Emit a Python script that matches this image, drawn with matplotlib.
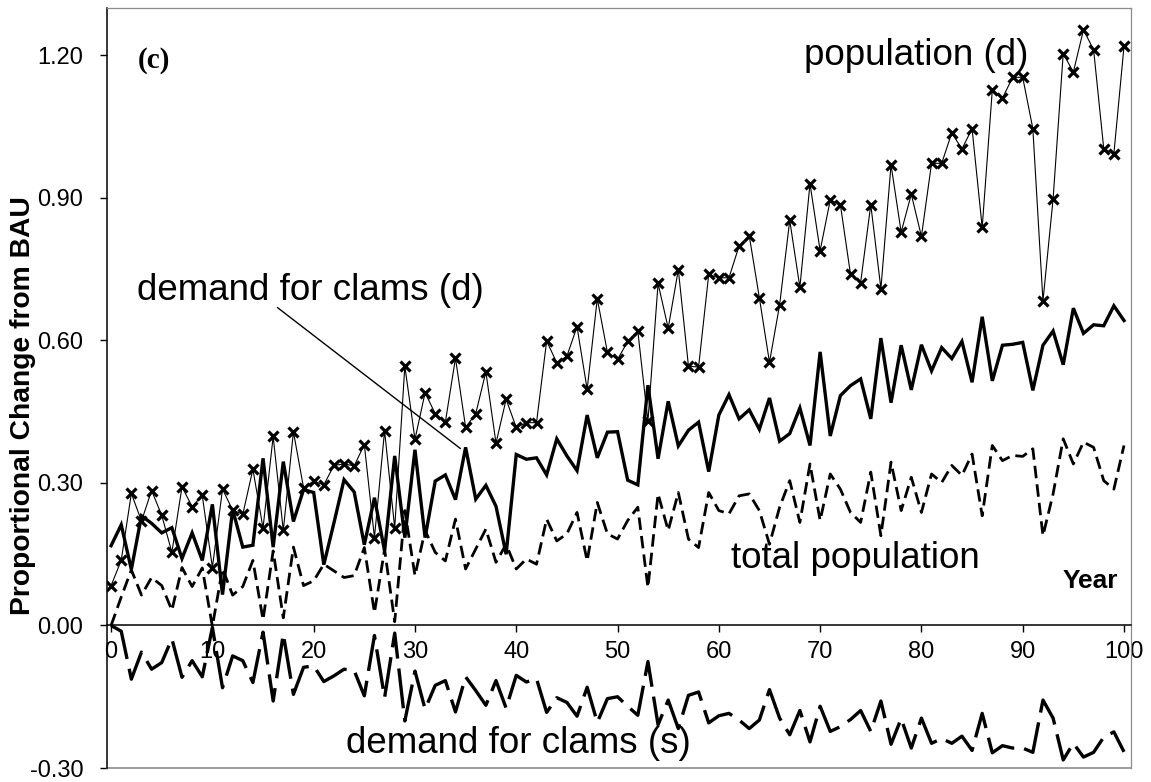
import matplotlib
matplotlib.use("Agg")
import matplotlib.pyplot as plt

plt.rcParams['font.family'] = ['Liberation Sans', 'DejaVu Sans']

# year axis
years = list(range(0, 101))

# population (d), thin line with x markers
population_d = [
    0.084, 0.137, 0.278, 0.220, 0.284, 0.232, 0.154, 0.292, 0.250, 0.274,
    0.122, 0.287, 0.243, 0.234, 0.329, 0.205, 0.398, 0.200, 0.408, 0.290,
    0.304, 0.296, 0.337, 0.340, 0.336, 0.381, 0.185, 0.410, 0.205, 0.546,
    0.392, 0.490, 0.446, 0.428, 0.563, 0.417, 0.446, 0.534, 0.384, 0.476,
    0.417, 0.427, 0.427, 0.599, 0.553, 0.567, 0.629, 0.497, 0.688, 0.575,
    0.560, 0.598, 0.620, 0.430, 0.720, 0.626, 0.749, 0.546, 0.544, 0.739,
    0.732, 0.732, 0.799, 0.821, 0.690, 0.554, 0.675, 0.853, 0.712, 0.930,
    0.789, 0.896, 0.886, 0.739, 0.722, 0.886, 0.709, 0.970, 0.828, 0.908,
    0.819, 0.973, 0.973, 1.037, 1.003, 1.046, 0.838, 1.128, 1.110, 1.154,
    1.154, 1.046, 0.683, 0.898, 1.204, 1.165, 1.254, 1.212, 1.004, 0.993,
    1.219,
]

# demand for clams (d), thick solid line
demand_d = [
    0.168, 0.212, 0.118, 0.231, 0.215, 0.195, 0.206, 0.141, 0.195, 0.137,
    0.255, 0.065, 0.244, 0.165, 0.169, 0.352, 0.165, 0.345, 0.219, 0.286,
    0.280, 0.128, 0.216, 0.307, 0.281, 0.170, 0.269, 0.157, 0.357, 0.185,
    0.370, 0.185, 0.304, 0.317, 0.265, 0.375, 0.266, 0.295, 0.251, 0.150,
    0.360, 0.350, 0.353, 0.317, 0.393, 0.357, 0.326, 0.443, 0.353, 0.407,
    0.408, 0.306, 0.296, 0.506, 0.351, 0.472, 0.378, 0.411, 0.428, 0.324,
    0.443, 0.486, 0.435, 0.454, 0.413, 0.479, 0.388, 0.404, 0.458, 0.379,
    0.576, 0.399, 0.484, 0.505, 0.519, 0.435, 0.605, 0.469, 0.590, 0.496,
    0.591, 0.536, 0.585, 0.562, 0.598, 0.512, 0.650, 0.515, 0.590, 0.592,
    0.596, 0.495, 0.590, 0.620, 0.549, 0.668, 0.615, 0.633, 0.631, 0.673,
    0.642,
]

# total population, short dashes
total_pop = [
    0.000, 0.060, 0.117, 0.064, 0.101, 0.084, 0.032, 0.122, 0.082, 0.121,
    -0.002, 0.120, 0.064, 0.082, 0.137, 0.012, 0.157, 0.016, 0.165, 0.084,
    0.094, 0.129, 0.115, 0.101, 0.105, 0.164, 0.027, 0.160, 0.008, 0.242,
    0.105, 0.200, 0.154, 0.136, 0.224, 0.119, 0.161, 0.203, 0.133, 0.171,
    0.119, 0.140, 0.129, 0.224, 0.178, 0.193, 0.238, 0.136, 0.259, 0.193,
    0.182, 0.221, 0.249, 0.080, 0.277, 0.200, 0.280, 0.182, 0.164, 0.280,
    0.242, 0.235, 0.273, 0.277, 0.242, 0.171, 0.249, 0.305, 0.217, 0.340,
    0.221, 0.319, 0.287, 0.238, 0.217, 0.323, 0.189, 0.344, 0.242, 0.312,
    0.238, 0.319, 0.301, 0.337, 0.316, 0.361, 0.231, 0.379, 0.347, 0.358,
    0.356, 0.372, 0.189, 0.277, 0.393, 0.340, 0.386, 0.375, 0.305, 0.287,
    0.379,
]

# demand for clams (s), long dashes
demand_s = [
    0.000, -0.012, -0.113, -0.056, -0.092, -0.078, -0.028, -0.109, -0.074, -0.108,
    -0.004, -0.131, -0.064, -0.074, -0.120, -0.014, -0.159, -0.018, -0.145, -0.088,
    -0.085, -0.118, -0.106, -0.092, -0.095, -0.148, -0.021, -0.152, -0.016, -0.201,
    -0.096, -0.176, -0.126, -0.116, -0.182, -0.108, -0.137, -0.168, -0.116, -0.174,
    -0.105, -0.119, -0.112, -0.183, -0.152, -0.162, -0.191, -0.130, -0.204, -0.154,
    -0.150, -0.170, -0.189, -0.076, -0.209, -0.157, -0.217, -0.147, -0.140, -0.205,
    -0.190, -0.185, -0.199, -0.217, -0.199, -0.135, -0.195, -0.230, -0.179, -0.245,
    -0.170, -0.223, -0.213, -0.198, -0.179, -0.223, -0.159, -0.250, -0.196, -0.258,
    -0.195, -0.248, -0.238, -0.248, -0.233, -0.263, -0.185, -0.268, -0.253, -0.258,
    -0.258, -0.267, -0.157, -0.195, -0.283, -0.248, -0.277, -0.267, -0.235, -0.224,
    -0.266,
]

x_ticks = [0, 10, 20, 30, 40, 50, 60, 70, 80, 90, 100]
y_ticks = [-0.30, 0.00, 0.30, 0.60, 0.90, 1.20]

fig = plt.figure(figsize=(11.51, 7.82), dpi=100)
ax = fig.add_axes([0.093, 0.0179, 0.8897, 0.9719])

# series
ax.plot(years, population_d, color="black", lw=0.8, marker="x",
        markersize=6.5, markeredgewidth=2.3, zorder=4)
ax.plot(years, demand_d, color="black", lw=2.4, solid_joinstyle="miter", zorder=4)
ax.plot(years, total_pop, color="black", lw=2.0, linestyle=(0, (4.5, 2.2)), zorder=4)
ax.plot(years, demand_s, color="black", lw=2.4, linestyle=(0, (12, 3)), zorder=4)

ax.set_xlim(-0.4, 100.7)
ax.set_ylim(-0.30, 1.30)

# x axis sits at zero
ax.spines['bottom'].set_position(('data', 0))
ax.spines['bottom'].set_linewidth(1.1)
ax.spines['left'].set_linewidth(1.1)
ax.spines['top'].set_color('#8c8c8c')
ax.spines['right'].set_color('#8c8c8c')
ax.spines['top'].set_linewidth(0.9)
ax.spines['right'].set_linewidth(0.9)
# lower frame edge of the plot area
ax.plot([0, 1], [0, 0], transform=ax.transAxes, color='#8c8c8c', lw=1.2, clip_on=False)

ax.set_xticks(x_ticks)
ax.set_xticklabels([str(t) for t in x_ticks])
ax.set_yticks(y_ticks)
ax.set_yticklabels(["%.2f" % t for t in y_ticks])
ax.tick_params(axis='x', direction='out', length=5, width=1, labelsize=17, pad=6)
ax.tick_params(axis='y', direction='out', length=5, width=1, labelsize=17, pad=12)

fig.text(0.02, 1 - 406 / 782, "Proportional Change from BAU", rotation=90,
         ha='center', va='center', fontsize=20.3, fontweight='bold')

# labels inside the plot
ax.text(2.6, 1.19, "(c)", fontsize=21, fontweight='bold',
        family=['Liberation Serif', 'DejaVu Serif'], ha='left', va='center')
ax.text(68.4, 1.179, "population (d)", fontsize=26.5, ha='left', va='baseline')
ax.text(2.6, 0.686, "demand for clams (d)", fontsize=26.5, ha='left', va='baseline')
ax.text(61.2, 0.122, "total population", fontsize=26.5, ha='left', va='baseline')
ax.text(23.2, -0.268, "demand for clams (s)", fontsize=26.5, ha='left', va='baseline')
ax.text(99.4, 0.078, "Year", fontsize=19, fontweight='bold', ha='right', va='baseline')

ax.annotate("", xy=(34.7, 0.369), xytext=(16.2, 0.673),
            arrowprops=dict(arrowstyle='-', color='black', lw=1.0))

fig.savefig("out.png", dpi=100, facecolor='white')
